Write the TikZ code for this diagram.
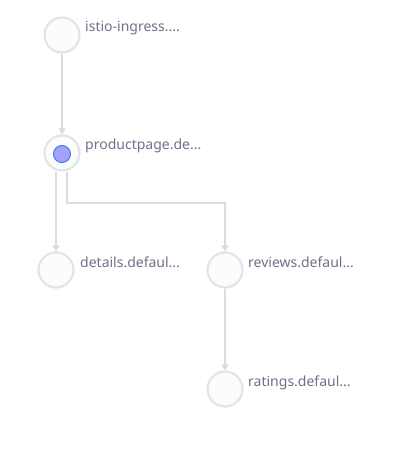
\documentclass[tikz,border=0pt]{standalone}
\usepackage{fontspec}
\setmainfont{Noto Sans}
\usetikzlibrary{arrows.meta,calc}
\definecolor{ringc}{HTML}{E1E4EA}
\definecolor{fillc}{HTML}{FCFCFD}
\definecolor{edgec}{HTML}{D8DBE2}
\definecolor{textc}{HTML}{6B7288}
\definecolor{innerf}{HTML}{A0A3F7}
\definecolor{innerd}{HTML}{3F7BF0}
\tikzset{
  svc/.style={circle, draw=ringc, line width=2.2bp, fill=fillc, minimum size=35bp, inner sep=0pt},
  lbl/.style={anchor=base west, text=textc, font=\fontsize{14bp}{16bp}\selectfont, inner sep=0pt},
  edge/.style={draw=edgec, line width=1.4bp, -{Triangle[width=7bp,length=6bp]}},
}
\begin{document}
\begin{tikzpicture}[x=1bp,y=-1bp]
\useasboundingbox (0,0) rectangle (414,453);
\node[svc] (ing) at (62,35) {};
\node[svc] (pp) at (62,153) {};
\node[circle, draw=innerd, line width=1bp, fill=innerf, minimum size=17bp, inner sep=0pt] (ppin) at (62,154) {};
\node[svc] (det) at (56,270) {};
\node[svc] (rev) at (225,270) {};
\node[svc] (rat) at (225,389) {};
\node[lbl] (ingl) at (85,32) {istio-ingress....};
\node[lbl] (ppl) at (85,150) {productpage.de...};
\node[lbl] (detl) at (80,267) {details.defaul...};
\node[lbl] (revl) at (248,267) {reviews.defaul...};
\node[lbl] (ratl) at (248,386) {ratings.defaul...};
\coordinate (bend) at (225,203);
\draw[edge] (ing.south) -- (pp.north);
\draw[edge] (det.north |- pp.south) -- (det.north);
\draw[edge] ([xshift=5bp]pp.south) |- (bend) -- (rev.north);
\draw[edge] (rev.south) -- (rat.north);
\end{tikzpicture}
\end{document}
